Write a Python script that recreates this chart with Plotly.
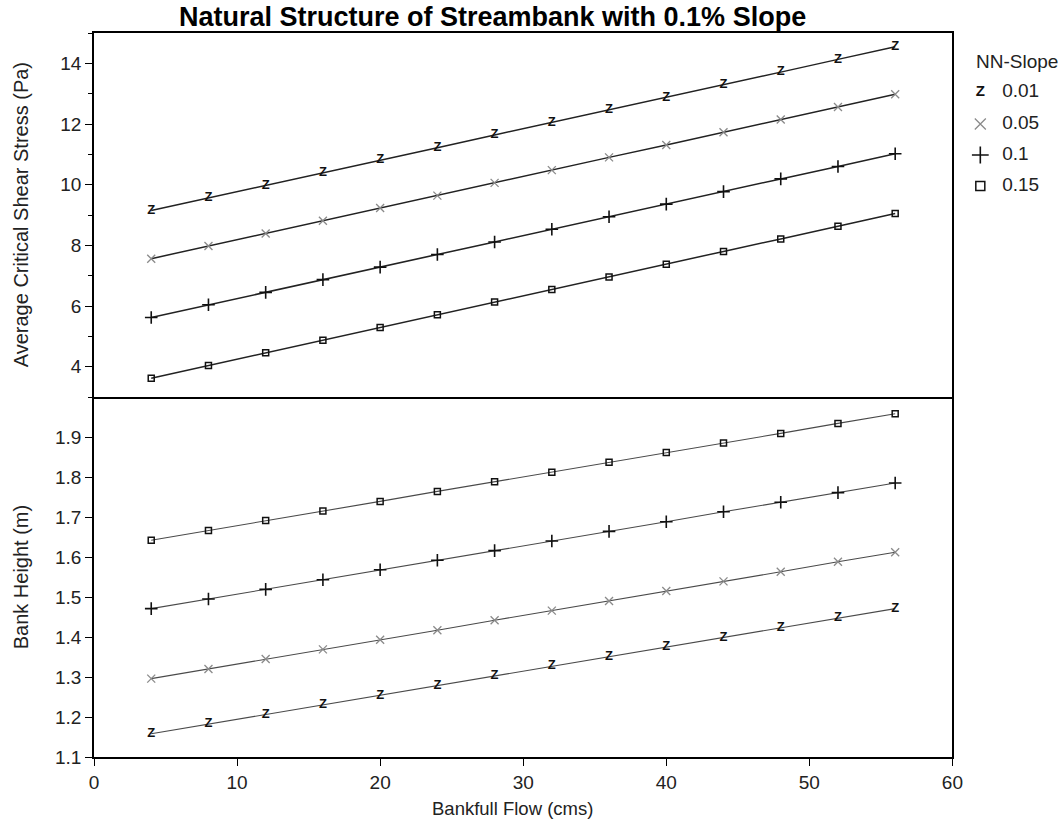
import plotly.graph_objects as go

# ---------------- data ----------------
flow = [4, 8, 12, 16, 20, 24, 28, 32, 36, 40, 44, 48, 52, 56]
slope_labels = ["0.01", "0.05", "0.1", "0.15"]

shear_001 = [9.15, 9.56, 9.98, 10.39, 10.81, 11.22, 11.64, 12.05, 12.47, 12.88, 13.30, 13.71, 14.13, 14.55]
shear_005 = [7.56, 7.98, 8.39, 8.81, 9.23, 9.64, 10.06, 10.48, 10.90, 11.31, 11.73, 12.15, 12.56, 12.98]
shear_01 = [5.62, 6.04, 6.45, 6.87, 7.28, 7.70, 8.11, 8.53, 8.94, 9.36, 9.77, 10.19, 10.60, 11.02]
shear_015 = [3.62, 4.04, 4.46, 4.87, 5.29, 5.71, 6.13, 6.54, 6.96, 7.38, 7.80, 8.21, 8.63, 9.05]

height_001 = [1.158, 1.182, 1.206, 1.230, 1.254, 1.278, 1.302, 1.327, 1.351, 1.375, 1.399, 1.423, 1.447, 1.471]
height_005 = [1.296, 1.320, 1.345, 1.369, 1.393, 1.417, 1.442, 1.466, 1.490, 1.515, 1.539, 1.563, 1.588, 1.612]
height_01 = [1.471, 1.495, 1.519, 1.543, 1.568, 1.592, 1.616, 1.640, 1.664, 1.688, 1.713, 1.737, 1.761, 1.785]
height_015 = [1.642, 1.666, 1.691, 1.715, 1.739, 1.764, 1.788, 1.812, 1.837, 1.861, 1.885, 1.909, 1.934, 1.958]

top_ticks = [4, 6, 8, 10, 12, 14]
bot_ticks = [1.1, 1.2, 1.3, 1.4, 1.5, 1.6, 1.7, 1.8, 1.9]
x_ticks = [0, 10, 20, 30, 40, 50, 60]

title_text = "Natural Structure of Streambank with 0.1% Slope"
xlabel = "Bankfull Flow (cms)"
ylabel_top = "Average Critical Shear Stress (Pa)"
ylabel_bot = "Bank Height (m)"
legend_title = "NN-Slope"

# ---------------- layout geometry ----------------
FONT = "Liberation Sans, Arial, sans-serif"
SX = 0.9925                  # observed horizontal scale of the captured page
W, H = round(1061 / SX), 824
ML, MR, MT, MB = 93 / SX, 3, 33, 67
PW = W - ML - MR
PH = H - MT - MB
MAIN_X1 = (862 / SX) / PW
SPLIT = 360 / PH


def px_x(p):
    return (p / SX - ML) / PW


def px_y(p):
    return (H - MB - p) / PH


styles = [
    dict(kind="text", text="Z", color="#111"),
    dict(kind="marker", symbol="x-thin-open", size=8, color="#8a8a8a", lw=1.3),
    dict(kind="marker", symbol="cross-thin-open", size=9, color="#111", lw=1.6),
    dict(kind="marker", symbol="square-open", size=6, color="#111", lw=1.5),
]

fig = go.Figure()


def add_series(xs, ys, st, xa, ya, line_color, line_w):
    if st["kind"] == "text":
        fig.add_trace(go.Scatter(
            x=xs, y=ys, xaxis=xa, yaxis=ya, mode="lines+text",
            text=[st["text"]] * len(xs), textposition="middle center",
            textfont=dict(family=FONT, size=13, color=st["color"], weight="bold"),
            line=dict(color=line_color, width=line_w), showlegend=False,
            cliponaxis=False))
    else:
        fig.add_trace(go.Scatter(
            x=xs, y=ys, xaxis=xa, yaxis=ya, mode="lines+markers",
            marker=dict(symbol=st["symbol"], size=st["size"], color=st["color"],
                        line=dict(color=st["color"], width=st["lw"])),
            line=dict(color=line_color, width=line_w), showlegend=False,
            cliponaxis=False))


top_series = [shear_001, shear_005, shear_01, shear_015]
bot_series = [height_001, height_005, height_01, height_015]

for ys, st in zip(top_series, styles):
    add_series(flow, ys, st, "x2", "y2", "#222", 1.5)
for ys, st in zip(bot_series, styles):
    add_series(flow, ys, st, "x", "y", "#4a4a4a", 1.1)

# legend drawn on its own pixel-scaled axis (values are picture pixels)
leg_rows = [92, 124, 155, 186]
leg_sym_x = 983
leg_lab_x = 1005
for lab, st, ry in zip(slope_labels, styles, leg_rows):
    if st["kind"] == "text":
        fig.add_trace(go.Scatter(
            x=[leg_sym_x], y=[ry], xaxis="x3", yaxis="y3", mode="text",
            text=[st["text"]], textposition="middle center",
            textfont=dict(family=FONT, size=15, color=st["color"], weight="bold"),
            showlegend=False, cliponaxis=False))
    else:
        fig.add_trace(go.Scatter(
            x=[leg_sym_x], y=[ry], xaxis="x3", yaxis="y3", mode="markers",
            marker=dict(symbol=st["symbol"], size=st["size"] + 3, color=st["color"],
                        line=dict(color=st["color"], width=st["lw"])),
            showlegend=False, cliponaxis=False))
    fig.add_trace(go.Scatter(
        x=[leg_lab_x], y=[ry], xaxis="x3", yaxis="y3", mode="text",
        text=[lab], textposition="middle right",
        textfont=dict(family=FONT, size=19, color="#222"),
        showlegend=False, cliponaxis=False))

axis_common = dict(showgrid=False, zeroline=False, showline=True,
                   linecolor="black", linewidth=1.5,
                   tickfont=dict(family=FONT, size=19, color="#222"),
                   ticks="outside", ticklen=7, tickwidth=1.3, tickcolor="black")

fig.update_layout(
    width=W, height=H,
    margin=dict(l=ML, r=MR, t=MT, b=MB),
    paper_bgcolor="white", plot_bgcolor="white",
    showlegend=False,
    xaxis=dict(domain=[0, MAIN_X1], anchor="y", range=[0, 60], tickvals=x_ticks,
               **axis_common),
    yaxis=dict(domain=[0, SPLIT], anchor="x", range=[1.1, 2.0], tickvals=bot_ticks,
               tickformat=".1f", mirror=True, **axis_common),
    xaxis2=dict(domain=[0, MAIN_X1], anchor="y2", matches="x", range=[0, 60],
                showgrid=False, zeroline=False, showline=True, linecolor="black",
                linewidth=1.5, mirror=True, ticks="", showticklabels=False),
    yaxis2=dict(domain=[SPLIT, 1], anchor="x2", range=[3, 15], tickvals=top_ticks,
                mirror=True,
                minor=dict(dtick=1, tick0=1, ticklen=4, tickcolor="black",
                           tickwidth=1.2, ticks="outside"),
                **axis_common),
    xaxis3=dict(domain=[0.9, 1.0], anchor="y3",
                range=[(ML + 0.9 * PW) * SX, (ML + PW) * SX], visible=False),
    yaxis3=dict(domain=[0, 1], anchor="x3", range=[H - MB, MT], visible=False),
)

annotations = [
    dict(text="<b>" + title_text + "</b>", x=px_x(493), y=px_y(17), xref="paper", yref="paper",
         xanchor="center", yanchor="middle", showarrow=False,
         font=dict(family=FONT, size=27, color="black")),
    dict(text=xlabel, x=px_x(513), y=px_y(808), xref="paper", yref="paper",
         xanchor="center", yanchor="middle", showarrow=False,
         font=dict(family=FONT, size=18.5, color="#222")),
    dict(text=ylabel_top, x=px_x(20), y=px_y(215), xref="paper", yref="paper",
         xanchor="center", yanchor="middle", textangle=-90, showarrow=False,
         font=dict(family=FONT, size=20, color="#222")),
    dict(text=ylabel_bot, x=px_x(20), y=px_y(577), xref="paper", yref="paper",
         xanchor="center", yanchor="middle", textangle=-90, showarrow=False,
         font=dict(family=FONT, size=20, color="#222")),
    dict(text=legend_title, x=px_x(977), y=px_y(62), xref="paper", yref="paper",
         xanchor="left", yanchor="middle", showarrow=False,
         font=dict(family=FONT, size=19, color="#222")),
]
fig.update_layout(annotations=annotations)

# remove the default page margin and scrollbars so the figure fills the window exactly
fig.write_html(
    "out.html",
    config={"displayModeBar": False},
    post_script=("document.documentElement.style.overflow='hidden';"
                 "document.body.style.overflow='hidden';"
                 "document.body.style.margin='0px';"),
)
